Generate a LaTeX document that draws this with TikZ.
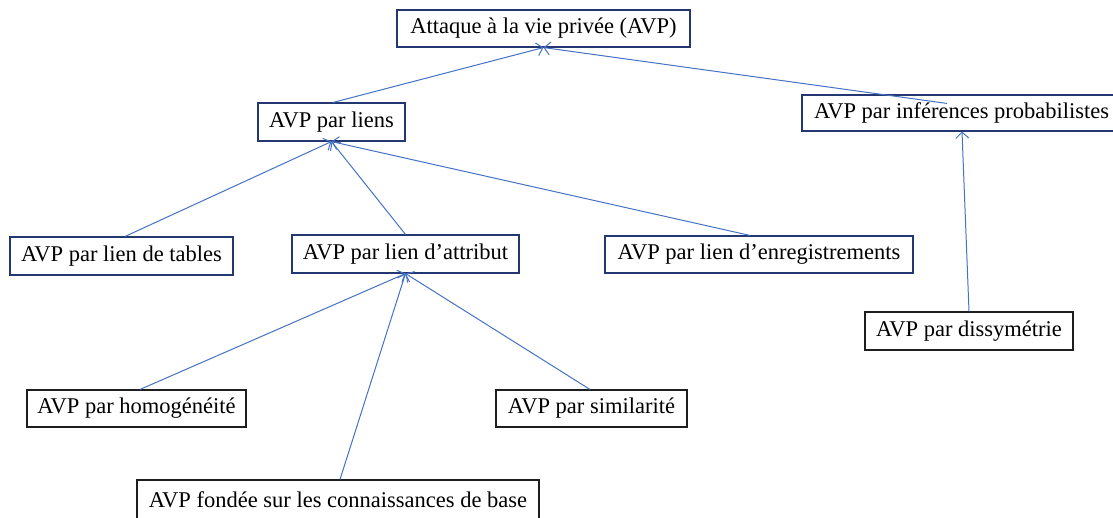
\documentclass[tikz,border=0pt]{standalone}
\usepackage{fontspec}
\setmainfont{Liberation Serif}
\usetikzlibrary{arrows.meta}
\definecolor{boxblue}{RGB}{35,55,115}
\definecolor{boxdark}{RGB}{30,30,30}
\definecolor{linkblue}{RGB}{68,114,196}
\begin{document}
\begin{tikzpicture}[x=1pt,y=-1pt,
  box/.style={draw=boxblue,line width=1.1pt,inner sep=0pt,font=\fontsize{22.5}{26}\selectfont,anchor=center},
  dbox/.style={box,draw=boxdark},
  link/.style={draw=linkblue,line width=1pt,-{Straight Barb[length=6pt,width=13pt]}}]
\useasboundingbox (0,0) rectangle (1113,518);
\node[box,minimum width=293pt,minimum height=37pt] (top) at (543.5,28.5) {Attaque à la vie privée (AVP)};
\node[box,minimum width=147pt,minimum height=38pt] (liens) at (331.5,122) {AVP par liens};
\node[box,minimum width=316pt,minimum height=36pt] (inf) at (960,113) {\makebox[310pt][l]{\hspace{9pt}AVP par inférences probabilistes}};
\node[box,minimum width=223pt,minimum height=38pt] (tables) at (121.5,256) {AVP par lien de tables};
\node[box,minimum width=227pt,minimum height=38pt] (attr) at (405.5,254) {AVP par lien d’attribut};
\node[box,minimum width=308pt,minimum height=37pt] (enr) at (759,254.5) {AVP par lien d’enregistrements};
\node[dbox,minimum width=208pt,minimum height=38pt] (dis) at (969,331) {AVP par dissymétrie};
\node[dbox,minimum width=219pt,minimum height=37pt] (hom) at (136.5,408.5) {AVP par homogénéité};
\node[dbox,minimum width=191pt,minimum height=37pt] (sim) at (591.5,408.5) {AVP par similarité};
\node[dbox,minimum width=402pt,minimum height=40pt] (fond) at (338,500) {AVP fondée sur les connaissances de base};
\path[link] ([xshift=1.5pt]liens.north) -- (top.south);
\path[link] ([xshift=-13pt,yshift=-9pt]inf.north) -- (top.south);
\path[link] ([xshift=3.5pt]tables.north) -- (liens.south);
\path[link] (attr.north) -- (liens.south);
\path[link] ([xshift=-9pt]enr.north) -- (liens.south);
\path[link] (dis.north) -- ([xshift=2pt]inf.south);
\path[link] ([xshift=3.5pt]hom.north) -- (attr.south);
\path[link] ([xshift=2pt]fond.north) -- (attr.south);
\path[link] ([xshift=-1.5pt]sim.north) -- (attr.south);
\end{tikzpicture}
\end{document}
